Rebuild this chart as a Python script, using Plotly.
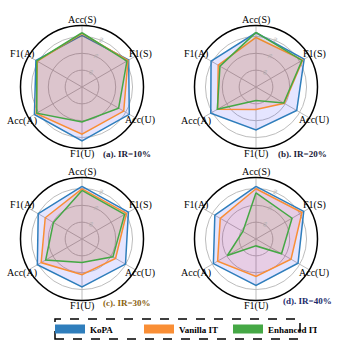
import math
import plotly.graph_objects as go

# Radar axes (clockwise from the top)
axes = ["Acc(S)", "F1(S)", "Acc(U)", "F1(U)", "Acc(A)", "F1(A)"]

# Scores per imbalance ratio (IR)
kopa_10 = [80.6, 82.0, 82.4, 82.0, 82.6, 81.6]
vanilla_10 = [81.8, 81.5, 78.6, 78.0, 81.4, 80.6]
enhanced_10 = [82.2, 80.8, 75.1, 70.8, 81.0, 81.0]

kopa_20 = [82.2, 83.0, 77.9, 75.5, 81.0, 80.8]
vanilla_20 = [79.4, 82.0, 69.4, 63.3, 76.3, 75.9]
enhanced_20 = [82.4, 81.5, 69.0, 58.0, 76.5, 74.7]

kopa_30 = [81.2, 81.8, 79.8, 78.4, 80.6, 80.0]
vanilla_30 = [79.8, 80.5, 73.0, 71.2, 78.0, 75.2]
enhanced_30 = [78.8, 79.2, 71.2, 63.9, 74.9, 69.6]

kopa_40 = [81.2, 82.7, 78.8, 77.6, 79.2, 78.2]
vanilla_40 = [79.8, 81.5, 74.0, 72.2, 76.3, 74.5]
enhanced_40 = [77.4, 74.7, 67.5, 54.1, 69.6, 59.0]

panels = [
    ("polar", "(a). IR=10%", [kopa_10, vanilla_10, enhanced_10]),
    ("polar2", "(b). IR=20%", [kopa_20, vanilla_20, enhanced_20]),
    ("polar3", "(c). IR=30%", [kopa_30, vanilla_30, enhanced_30]),
    ("polar4", "(d). IR=40%", [kopa_40, vanilla_40, enhanced_40]),
]

series_names = ["KoPA", "Vanilla IT", "Enhanced IT"]
line_colors = ["#2f7ebc", "#f98e35", "#45a845"]
fill_colors = ["rgba(0,0,255,0.10)", "rgba(255,0,0,0.10)", "rgba(128,128,0,0.10)"]

W, H = 347, 352
SERIF = "Liberation Serif"

# panel centres and radius in pixels
centres = {"polar": (82, 87), "polar2": (256, 87), "polar3": (82, 239), "polar4": (256, 239)}
R = 61.5
LABEL_R = 67  # axis names sit across the outer ring

fig = go.Figure()

for sub, caption, values in panels:
    for name, vals, lc, fc in zip(series_names, values, line_colors, fill_colors):
        fig.add_trace(go.Scatterpolar(
            r=vals + vals[:1], theta=axes + axes[:1],
            mode="lines", fill="toself", fillcolor=fc,
            line=dict(color=lc, width=1.5),
            name=name, showlegend=False, subplot=sub,
        ))

# legend entries drawn as wide colour patches
for name, lc in zip(series_names, line_colors):
    fig.add_trace(go.Scatterpolar(
        r=[None], theta=[None], mode="lines",
        line=dict(color=lc, width=9), name=name, subplot="polar",
    ))

def polar_layout(cx, cy):
    return dict(
        domain=dict(x=[(cx - R) / W, (cx + R) / W],
                    y=[(H - cy - R) / H, (H - cy + R) / H]),
        bgcolor="white",
        angularaxis=dict(
            rotation=90, direction="clockwise",
            categoryorder="array", categoryarray=axes,
            linecolor="black", linewidth=1.5,
            gridcolor="#bdbdbd", gridwidth=1,
            ticks="", showticklabels=False,
        ),
        radialaxis=dict(
            range=[50, 86.5], tickvals=[60, 70, 80],
            showline=False, ticks="", angle=72,
            gridcolor="#bdbdbd", gridwidth=1,
            tickfont=dict(family=SERIF, size=5, color="#aaaaaa"),
        ),
    )

layout = dict(
    width=W, height=H, margin=dict(l=0, r=0, t=0, b=0),
    paper_bgcolor="white", plot_bgcolor="white",
    legend=dict(
        orientation="h", x=50 / W, xanchor="left", y=(H - 329) / H, yanchor="middle",
        font=dict(family=SERIF, size=9, color="black", weight="bold"),
        bgcolor="rgba(0,0,0,0)", itemwidth=30, entrywidth=44, entrywidthmode="pixels",
    ),
    shapes=[dict(
        type="rect", xref="paper", yref="paper",
        x0=55 / W, x1=300 / W, y0=(H - 339) / H, y1=(H - 319) / H,
        line=dict(color="black", width=1.5, dash="dash"),
    )],
)
for sub in centres:
    layout[sub] = polar_layout(*centres[sub])

annotations = []
# axis names around each radar
for sub, (cx, cy) in centres.items():
    for i, name in enumerate(axes):
        a = math.radians(60 * i)
        x = cx + LABEL_R * math.sin(a) * (1.03 if math.sin(a) < -0.1 else 1.0)
        y = cy - LABEL_R * math.cos(a)
        annotations.append(dict(
            x=x / W, y=(H - y) / H, xref="paper", yref="paper", showarrow=False,
            text=name, xanchor="center", yanchor="middle",
            font=dict(family=SERIF, size=10, color="black"),
        ))

caption_pos = {"polar": (127, 154), "polar2": (302, 154), "polar3": (127, 303), "polar4": (307, 301)}
caption_col = {"polar": "#1b1b3a", "polar2": "#1b1b3a", "polar3": "#8a6210", "polar4": "#1b2a6a"}
for sub, caption, _ in panels:
    x, y = caption_pos[sub]
    annotations.append(dict(
        x=x / W, y=(H - y) / H, xref="paper", yref="paper", showarrow=False,
        text=caption, xanchor="center", yanchor="middle",
        font=dict(family=SERIF, size=9, color=caption_col[sub], weight="bold"),
    ))
layout["annotations"] = annotations

fig.update_layout(**layout)
fig.write_html("out.html")
